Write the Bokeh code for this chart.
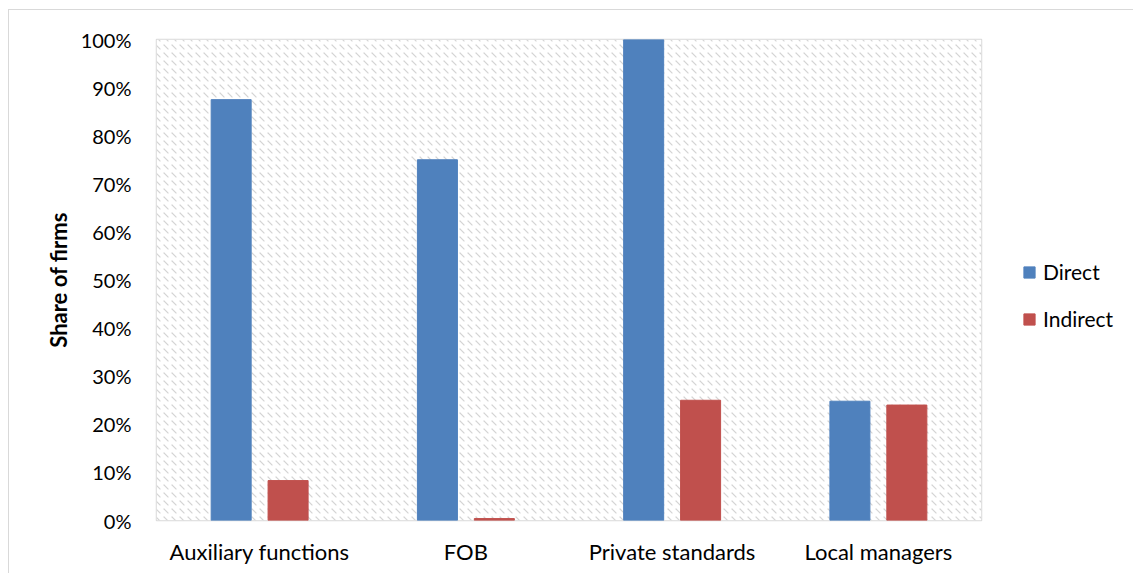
from bokeh.plotting import figure
from bokeh.models import (ColumnDataSource, FixedTicker, Legend, LegendItem,
                          BoxAnnotation, NumeralTickFormatter, Range1d)
from bokeh.embed import file_html
from bokeh.resources import INLINE

categories = ["Auxiliary functions", "FOB", "Private standards", "Local managers"]
direct = [0.875, 0.75, 1.0, 0.248]
indirect = [0.083, 0.004, 0.25, 0.24]
y_ticks = [i / 10 for i in range(11)]

FONT = "Lato"
BLUE = "#4F81BD"
RED = "#C0504D"
GRID = "#d9d9d9"

xs = list(range(len(categories)))
src = ColumnDataSource(dict(
    x_d=[x + 0.5 - 0.138 for x in xs],
    x_i=[x + 0.5 + 0.138 for x in xs],
    direct=direct, indirect=indirect))

p = figure(width=1125, height=564, output_backend="svg", toolbar_location=None,
           x_range=Range1d(0, len(categories)), y_range=Range1d(0, 1),
           min_border_left=147, min_border_top=29, min_border_bottom=54,
           min_border_right=0)
p.styles = {"border": "1px solid #d9d9d9", "box-sizing": "border-box",
            "margin-left": "8px", "margin-top": "9px"}
p.outline_line_color = GRID
p.outline_line_width = 1.5

p.add_layout(BoxAnnotation(fill_color="white", fill_alpha=1.0, line_alpha=0,
                           hatch_pattern="left_diagonal_dash", hatch_color="#d4d4d4",
                           hatch_scale=8, hatch_weight=1.2, level="underlay"))

w = 0.194
rd = p.vbar(x="x_d", top="direct", width=w, source=src, color=BLUE)
ri = p.vbar(x="x_i", top="indirect", width=w, source=src, color=RED)

# axes
p.xaxis.ticker = FixedTicker(ticks=[x + 0.5 for x in xs])
p.xaxis.major_label_overrides = {x + 0.5: c for x, c in zip(xs, categories)}
p.yaxis.ticker = FixedTicker(ticks=y_ticks)
p.yaxis.formatter = NumeralTickFormatter(format="0%")
for ax in (p.xaxis[0], p.yaxis[0]):
    ax.axis_line_color = None
    ax.major_tick_line_color = None
    ax.minor_tick_line_color = None
    ax.major_label_text_font = FONT
    ax.major_label_text_font_size = "20px"
    ax.major_label_text_color = "#000000"
p.xaxis.major_label_text_font_size = "22px"
p.xaxis.major_label_standoff = 11
p.yaxis.major_label_standoff = 19
p.yaxis.axis_label = "Share of firms"
p.yaxis.axis_label_text_font = FONT
p.yaxis.axis_label_text_font_size = "22px"
p.yaxis.axis_label_text_font_style = "bold"
p.yaxis.axis_label_text_color = "#000000"
p.yaxis.axis_label_standoff = 6

p.xgrid.ticker = FixedTicker(ticks=list(range(len(categories) + 1)))
p.xgrid.grid_line_color = GRID
p.xgrid.grid_line_width = 1.5
p.ygrid.ticker = FixedTicker(ticks=y_ticks)
p.ygrid.grid_line_color = GRID
p.ygrid.grid_line_width = 1.5

legend = Legend(items=[LegendItem(label="Direct", renderers=[rd]),
                       LegendItem(label="Indirect", renderers=[ri])],
                location=(41, 189), border_line_color=None,
                background_fill_alpha=0,
                label_text_font=FONT, label_text_font_size="21px",
                label_text_color="#000000",
                glyph_width=14, glyph_height=14, spacing=22, label_height=24,
                label_standoff=7, margin=0, padding=0)
p.add_layout(legend, "right")
p.frame_width = 825
p.frame_height = 481

open("out.html", "w").write(file_html(p, INLINE))
